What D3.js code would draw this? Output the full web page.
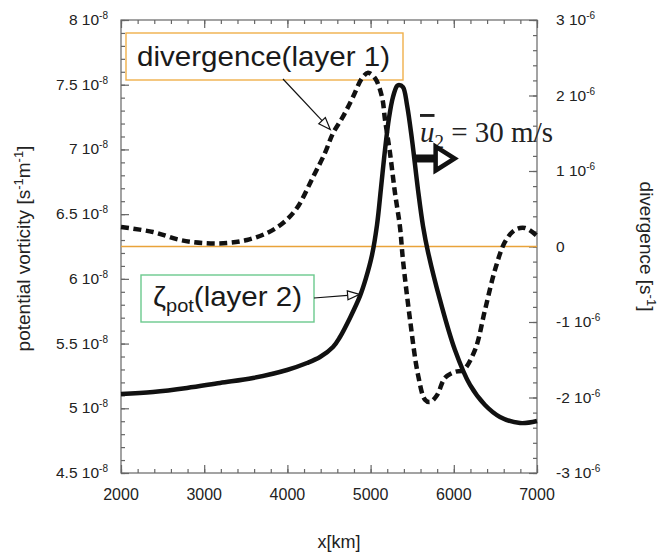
<!DOCTYPE html>
<meta charset="utf-8">
<title>Potential vorticity and divergence</title>
<style>
  html, body { margin: 0; background: #fff; }
  svg { display: block; font-family: 'Liberation Sans', Arial, sans-serif; }
  .frame { fill: none; stroke: #666; stroke-width: 1.2px; }
  .tick line { stroke: #666; stroke-width: 1.2px; }
  .domain { display: none; }
  .ticklabel { font-size: 15.5px; fill: #222; }
  .ticklabel .sup { font-size: 10px; }
  .title { font-size: 19px; fill: #222; }
  .zero { stroke: #e9a33a; stroke-width: 1.6px; }
  .pv { fill: none; stroke: #111; stroke-width: 4.5px; }
  .div { fill: none; stroke: #111; stroke-width: 4.5px; stroke-dasharray: 8 4.5; }
  .legend text { font-size: 28px; fill: #1a1a1a; }
  .note { font-family: 'Liberation Serif', 'Times New Roman', serif; font-size: 29px; fill: #222; }
</style>
<svg width="658" height="555"></svg>
<script src="https://cdn.jsdelivr.net/npm/d3@7/dist/d3.min.js"></script>
<script>
  /* global d3 */
  'use strict'

  // potential vorticity, layer 2 (left axis, units of 1e-8 s^-1 m^-1)
  const pvKm  = [2000, 2385, 2793, 3190, 3587, 3995, 4236, 4392, 4548, 4632,
                 4752, 4873, 4945, 5017, 5077, 5125, 5173, 5221, 5269, 5317,
                 5341, 5389, 5438, 5498, 5570, 5630, 5690, 5834, 6014, 6195,
                 6375, 6555, 6796, 7000]
  const pvVal = [5.11, 5.126, 5.157, 5.196, 5.234, 5.296, 5.35, 5.396, 5.474, 5.551,
                 5.698, 5.868, 6.007, 6.184, 6.416, 6.702, 6.996, 7.243, 7.405, 7.49,
                 7.498, 7.482, 7.343, 7.073, 6.687, 6.408, 6.208, 5.837, 5.45, 5.18,
                 5.025, 4.933, 4.886, 4.902]

  // divergence, layer 1 (right axis, units of 1e-6 s^-1)
  const divKm  = [2000, 2385, 2709, 2986, 3274, 3514, 3755, 3947, 4115, 4308,
                  4452, 4548, 4668, 4788, 4897, 4969, 5053, 5137, 5173, 5233,
                  5293, 5353, 5389, 5474, 5570, 5654, 5714, 5798, 5894, 6014,
                  6111, 6255, 6375, 6495, 6615, 6736, 6856, 7000]
  const divVal = [0.258, 0.192, 0.086, 0.046, 0.046, 0.086, 0.179, 0.311, 0.51, 0.92,
                  1.24, 1.5, 1.72, 1.98, 2.23, 2.3, 2.23, 1.98, 1.68, 1.24,
                  0.71, 0.26, -0.18, -0.97, -1.7, -2.03, -2.06, -1.97, -1.74, -1.66,
                  -1.64, -1.37, -0.84, -0.31, 0.06, 0.22, 0.245, 0.14]

  const xTicks = [2000, 3000, 4000, 5000, 6000, 7000]
  const pvTicks = [4.5, 5, 5.5, 6, 6.5, 7, 7.5, 8]
  const pvTickText = ['4.5', '5', '5.5', '6', '6.5', '7', '7.5', '8']
  const divTicks = [-3, -2, -1, 0, 1, 2, 3]
  const divTickText = ['-3', '-2', '-1', '0', '1', '2', '3']

  const margin = { top: 20, right: 121, bottom: 82, left: 121 }
  const width = 658 - margin.left - margin.right
  const height = 555 - margin.top - margin.bottom

  const svg = d3.select('svg')
  const g = svg.append('g').attr('transform', `translate(${margin.left},${margin.top})`)

  const x = d3.scaleLinear().domain([2000, 7000]).range([0, width])
  const yL = d3.scaleLinear().domain([4.5, 8]).range([height, 0])
  const yR = d3.scaleLinear().domain([-3, 3]).range([height, 0])

  // ticks, all pointing into the plot
  const minor = (a, b, s) => d3.range(a, b + s / 2, s)
  g.append('g').attr('transform', `translate(0,${height})`)
    .call(d3.axisBottom(x).tickValues(minor(2000, 7000, 200)).tickSize(-4).tickFormat(''))
  g.append('g').attr('transform', `translate(0,${height})`)
    .call(d3.axisBottom(x).tickValues(xTicks).tickSize(-8).tickFormat(''))
  g.append('g')
    .call(d3.axisTop(x).tickValues(minor(2000, 7000, 200)).tickSize(-4).tickFormat(''))
  g.append('g')
    .call(d3.axisTop(x).tickValues(xTicks).tickSize(-8).tickFormat(''))
  g.append('g')
    .call(d3.axisLeft(yL).tickValues(minor(4.5, 8, 0.1)).tickSize(-4).tickFormat(''))
  g.append('g')
    .call(d3.axisLeft(yL).tickValues(pvTicks).tickSize(-8).tickFormat(''))
  g.append('g').attr('transform', `translate(${width},0)`)
    .call(d3.axisRight(yR).tickValues(minor(-3, 3, 0.2)).tickSize(-4).tickFormat(''))
  g.append('g').attr('transform', `translate(${width},0)`)
    .call(d3.axisRight(yR).tickValues(divTicks).tickSize(-8).tickFormat(''))

  g.append('rect').attr('class', 'frame').attr('width', width).attr('height', height)

  // tick labels with "10^-n" suffix
  g.selectAll('.xl').data(xTicks).enter().append('text')
    .attr('class', 'ticklabel').style('font-size', '16px')
    .attr('x', d => x(d)).attr('y', height + 27)
    .attr('text-anchor', 'middle')
    .text(d => d)

  const lt = g.selectAll('.yl').data(pvTicks).enter().append('text')
    .attr('class', 'ticklabel')
    .attr('x', -13).attr('y', d => yL(d) + 5)
    .attr('text-anchor', 'end')
  lt.append('tspan').text((d, i) => pvTickText[i] + ' 10')
  lt.append('tspan').attr('class', 'sup').attr('dy', -6).text('-8')

  const rt = g.selectAll('.yr').data(divTicks).enter().append('text')
    .attr('class', 'ticklabel')
    .attr('x', width + 19).attr('y', d => yR(d) + 5)
  rt.append('tspan').text((d, i) => divTickText[i] + (d === 0 ? '' : ' 10'))
  rt.filter(d => d !== 0).append('tspan').attr('class', 'sup').attr('dy', -6).text('-6')

  // axis titles
  const tl = svg.append('text').attr('class', 'title')
    .attr('transform', `translate(30,${margin.top + height / 2 + 2}) rotate(-90)`)
    .attr('text-anchor', 'middle')
  tl.append('tspan').text('potential vorticity [s')
  tl.append('tspan').attr('dy', -7).attr('font-size', 13).text('-1')
  tl.append('tspan').attr('dy', 7).text('m')
  tl.append('tspan').attr('dy', -7).attr('font-size', 13).text('-1')
  tl.append('tspan').attr('dy', 7).text(']')

  const tr = svg.append('text').attr('class', 'title')
    .attr('transform', `translate(640,${margin.top + height / 2}) rotate(90)`)
    .attr('text-anchor', 'middle')
  tr.append('tspan').text('divergence [s')
  tr.append('tspan').attr('dy', -7).attr('font-size', 13).text('-1')
  tr.append('tspan').attr('dy', 7).text(']')

  svg.append('text').attr('class', 'title').style('font-size', '18px')
    .attr('x', 339).attr('y', 548)
    .attr('text-anchor', 'middle').text('x[km]')

  // zero line of the divergence axis
  g.append('line').attr('class', 'zero')
    .attr('x1', 0).attr('x2', width).attr('y1', yR(0)).attr('y2', yR(0))

  // legend boxes (the curves run over them)
  const l1 = g.append('g').attr('class', 'legend')
  l1.append('rect').attr('x', 5).attr('y', 13).attr('width', 277).attr('height', 47)
    .attr('fill', 'none').attr('stroke', '#f0b04a').attr('stroke-width', 1.4)
  l1.append('text').attr('x', 16).attr('y', 46)
    .attr('textLength', 253).attr('lengthAdjust', 'spacingAndGlyphs')
    .text('divergence(layer 1)')

  const l2 = g.append('g').attr('class', 'legend')
  l2.append('rect').attr('x', 20).attr('y', 255).attr('width', 173).attr('height', 47)
    .attr('fill', 'none').attr('stroke', '#6cc98e').attr('stroke-width', 1.4)
  const lt2 = l2.append('text').attr('x', 32).attr('y', 286)
    .attr('textLength', 149).attr('lengthAdjust', 'spacingAndGlyphs')
  lt2.append('tspan').text('ζ')
  lt2.append('tspan').attr('dy', 6).attr('font-size', 19).text('pot')
  lt2.append('tspan').attr('dy', -6).text('(layer 2)')

  // curves
  const pvLine = d3.line().x(d => x(d[0])).y(d => yL(d[1])).curve(d3.curveCatmullRom.alpha(0.5))
  const divLine = d3.line().x(d => x(d[0])).y(d => yR(d[1])).curve(d3.curveCatmullRom.alpha(0.5))
  g.append('path').attr('class', 'div').attr('d', divLine(d3.zip(divKm, divVal)))
  g.append('path').attr('class', 'pv').attr('d', pvLine(d3.zip(pvKm, pvVal)))

  // arrow with an open head
  function arrow(x1, y1, x2, y2, len, half, sw, shaft) {
    const a = Math.atan2(y2 - y1, x2 - x1)
    const bx = x2 - len * Math.cos(a), by = y2 - len * Math.sin(a)
    const px = -Math.sin(a) * half, py = Math.cos(a) * half
    g.append('line').attr('x1', x1).attr('y1', y1).attr('x2', bx).attr('y2', by)
      .attr('stroke', '#111').attr('stroke-width', shaft)
    g.append('path')
      .attr('d', `M${bx + px},${by + py}L${x2},${y2}L${bx - px},${by - py}Z`)
      .attr('fill', '#fff').attr('stroke', '#111').attr('stroke-width', sw)
      .attr('stroke-linejoin', 'miter')
  }
  arrow(162, 59, x(4515), yR(1.55), 12, 4.5, 1.2, 1.2)
  arrow(193, 278, x(4868), yL(5.88), 12, 4.5, 1.2, 1.2)

  // mean flow annotation
  const nt = g.append('text').attr('class', 'note').attr('x', 299).attr('y', 122)
  nt.append('tspan').attr('font-style', 'italic').attr('text-decoration', 'overline').text('u')
  nt.append('tspan').attr('dy', 6).attr('font-size', 19).text('2')
  nt.append('tspan').attr('dy', -6).text(' = 30 m/s')
  arrow(x(5530), yL(6.93), x(6010), yL(6.93), 19, 12, 4.5, 8)
</script>
